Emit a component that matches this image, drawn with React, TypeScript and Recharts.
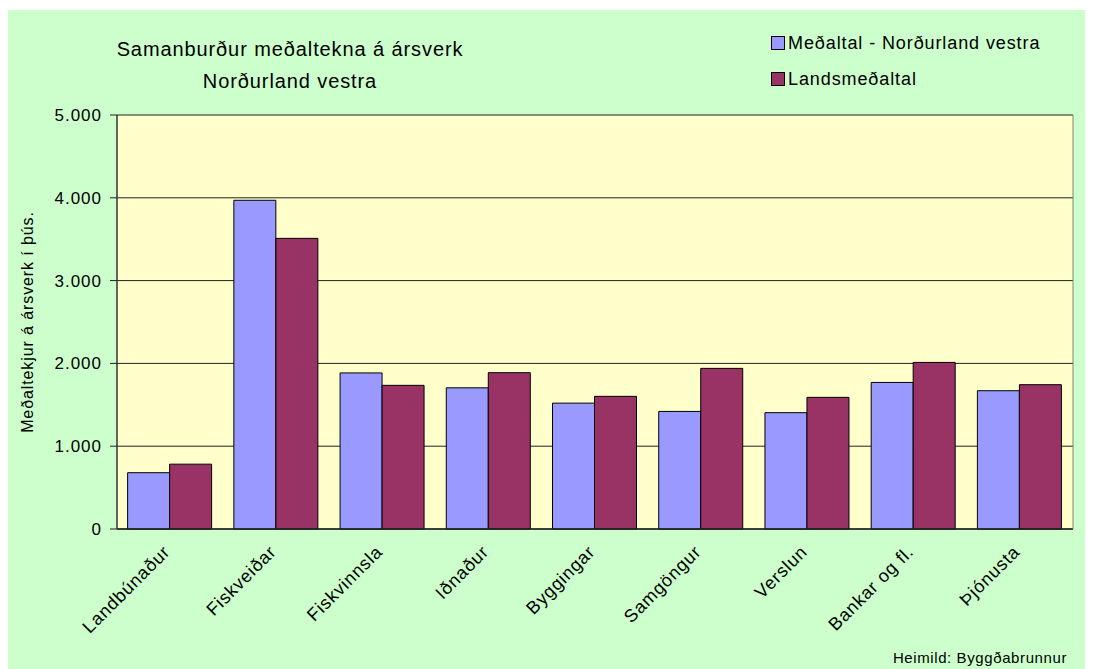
import { BarChart, Bar, XAxis, YAxis, CartesianGrid, Label } from 'recharts'

// Atvinnugreinar
const categories = [
  'Landbúnaður',
  'Fiskveiðar',
  'Fiskvinnsla',
  'Iðnaður',
  'Byggingar',
  'Samgöngur',
  'Verslun',
  'Bankar og fl.',
  'Þjónusta',
]

// meðaltekjur á ársverk í þús. kr.
const nordurlandVestra = [680, 3970, 1885, 1705, 1520, 1420, 1405, 1770, 1670]
const landsmedaltal = [783, 3510, 1735, 1888, 1602, 1940, 1590, 2012, 1743]

const yTicks = [0, 1000, 2000, 3000, 4000, 5000]

const series = [
  { key: 'nv', name: 'Meðaltal - Norðurland vestra', color: '#9999FF' },
  { key: 'land', name: 'Landsmeðaltal', color: '#993366' },
]

const data = categories.map((name, i) => ({
  name,
  nv: nordurlandVestra[i],
  land: landsmedaltal[i],
}))

const FONT = '"Liberation Sans", Arial, sans-serif'

const formatTick = (v: number) => (v === 0 ? '0' : `${v / 1000}.000`)

const CategoryTick = (props: any) => {
  const { x, y, payload } = props
  const tx = x + 1
  const ty = y + 24
  return (
    <text
      x={tx}
      y={ty}
      transform={`rotate(-45 ${tx} ${ty})`}
      textAnchor="end"
      fontSize={18}
      letterSpacing={0.8}
      fontFamily={FONT}
      fill="#000"
    >
      {payload.value}
    </text>
  )
}

export default function App() {
  return (
    <div
      style={{
        position: 'relative',
        width: 1085,
        height: 659,
        marginTop: 2,
        background: '#CCFFCC',
        fontFamily: FONT,
        color: '#000',
      }}
    >
      {/* titill */}
      <div
        style={{
          position: 'absolute',
          left: 0,
          top: 23,
          width: 564,
          textAlign: 'center',
          fontSize: 20,
          lineHeight: '32px',
          letterSpacing: 0.9,
        }}
      >
        <div>Samanburður meðaltekna á ársverk</div>
        <div>Norðurland vestra</div>
      </div>

      {/* skýringar */}
      <div style={{ position: 'absolute', left: 763, top: 15 }}>
        {series.map((s) => (
          <div
            key={s.key}
            style={{ display: 'flex', alignItems: 'flex-start', height: 36, fontSize: 18, lineHeight: '36px', letterSpacing: 0.9 }}
          >
            <span
              style={{
                display: 'inline-block',
                width: 12,
                height: 12,
                marginTop: 11,
                marginRight: 3,
                background: s.color,
                border: '1px solid #000',
              }}
            />
            <span>{s.name}</span>
          </div>
        ))}
      </div>

      <BarChart
        width={1085}
        height={659}
        data={data}
        margin={{ top: 105, right: 0, bottom: 0, left: 0 }}
        barCategoryGap="10%"
        barGap={0}
      >
        <CartesianGrid vertical={false} fill="#FFFFCC" stroke="#222" strokeWidth={1} />
        <XAxis
          dataKey="name"
          height={140}
          interval={0}
          tickLine={false}
          tickSize={0}
          tickMargin={0}
          axisLine={{ stroke: '#222', strokeWidth: 1.5 }}
          tick={<CategoryTick />}
        />
        <YAxis
          width={109}
          domain={[0, 5000]}
          ticks={yTicks}
          interval={0}
          tickFormatter={formatTick}
          tickSize={7}
          tickMargin={8}
          tickLine={{ stroke: '#222' }}
          axisLine={{ stroke: '#333', strokeWidth: 1.5 }}
          tick={{ fontSize: 17, fill: '#000', fontFamily: FONT, letterSpacing: 1 }}
        >
          <Label
            content={() => (
              <text
                x={19}
                y={312}
                transform="rotate(-90 19 312)"
                textAnchor="middle"
                dominantBaseline="central"
                fontSize={16}
                letterSpacing={0.9}
                fontFamily={FONT}
                fill="#000"
              >
                Meðaltekjur á ársverk í þús.
              </text>
            )}
          />
        </YAxis>
        <YAxis
          yAxisId="right"
          orientation="right"
          width={20}
          domain={[0, 5000]}
          tick={false}
          tickLine={false}
          axisLine={{ stroke: '#808080' }}
        />
        {series.map((s) => (
          <Bar
            key={s.key}
            dataKey={s.key}
            name={s.name}
            fill={s.color}
            stroke="#000"
            strokeWidth={1}
            isAnimationActive={false}
          />
        ))}
      </BarChart>

      {/* heimild */}
      <div
        style={{
          position: 'absolute',
          right: 26,
          top: 640,
          fontSize: 15,
          lineHeight: '15px',
          letterSpacing: 0.6,
          whiteSpace: 'nowrap',
        }}
      >
        Heimild: Byggðabrunnur
      </div>
    </div>
  )
}
